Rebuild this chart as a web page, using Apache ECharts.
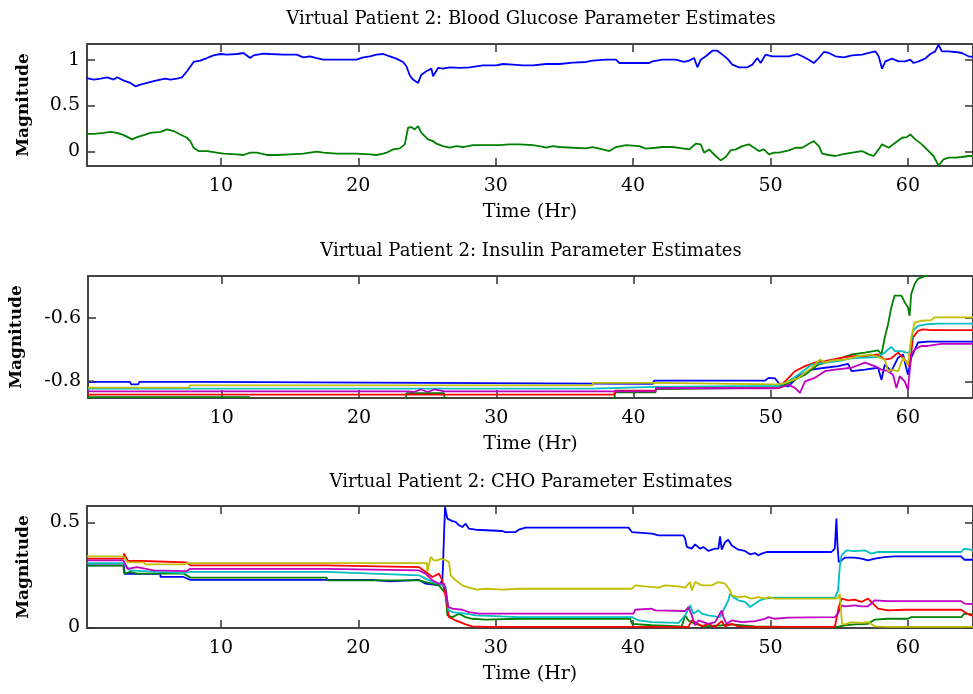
<!DOCTYPE html>
<html>
<head>
<meta charset="utf-8">
<title>Virtual Patient 2</title>
<style>html,body{margin:0;padding:0;background:#fff}</style>
</head>
<body>
<div id="container" style="width:973px;height:694px"></div>
<script src="https://cdn.jsdelivr.net/npm/echarts@6/dist/echarts.min.js"></script>
<script>
// ---- data: [time (hr), magnitude] ----
var bgBlue = [[0.21,0.80],[0.75,0.783],[1.23,0.794],[1.72,0.808],[2.2,0.783],[2.44,0.808],[2.93,0.772],[3.41,0.747],[3.77,0.71],[4.14,0.729],[4.62,0.747],[5.1,0.765],[5.59,0.783],[5.95,0.794],[6.32,0.783],[6.8,0.794],[7.16,0.808],[7.53,0.874],[8.01,0.975],[8.49,0.99],[8.98,1.018],[9.46,1.047],[9.95,1.062],[10.43,1.055],[11.16,1.062],[11.64,1.073],[12.13,1.018],[12.37,1.047],[13.09,1.066],[13.58,1.062],[14.55,1.055],[15.51,1.055],[16.0,1.026],[16.48,1.037],[16.97,1.018],[17.45,1.0],[18.9,1.0],[19.87,1.0],[20.36,1.026],[20.84,1.037],[21.32,1.055],[21.81,1.062],[22.29,1.037],[22.77,1.011],[23.26,0.975],[23.5,0.928],[23.74,0.83],[23.98,0.783],[24.35,0.747],[24.59,0.837],[24.95,0.874],[25.32,0.903],[25.44,0.819],[25.8,0.91],[26.16,0.903],[26.65,0.917],[27.37,0.91],[28.1,0.917],[29.07,0.939],[30.04,0.939],[30.52,0.953],[31.25,0.946],[31.97,0.939],[32.7,0.939],[33.67,0.953],[34.64,0.953],[35.6,0.968],[36.57,0.975],[37.06,0.99],[38.03,1.0],[38.75,1.0],[38.99,0.964],[39.96,0.964],[41.17,0.964],[41.41,0.982],[42.14,1.0],[43.11,1.0],[43.71,0.975],[44.08,0.99],[44.44,1.018],[44.68,0.917],[44.92,1.0],[45.29,1.037],[45.77,1.098],[46.13,1.098],[46.5,1.055],[46.86,1.011],[47.22,0.946],[47.71,0.917],[48.31,0.917],[48.68,0.946],[49.04,1.018],[49.28,0.964],[49.64,1.055],[50.13,1.037],[50.61,1.037],[51.34,1.037],[51.94,1.062],[52.31,1.037],[52.79,1.0],[53.15,0.964],[53.52,1.018],[53.88,1.084],[54.24,1.073],[54.73,1.037],[55.33,1.026],[55.94,1.047],[56.66,1.055],[57.15,1.073],[57.63,1.091],[57.87,1.037],[58.12,0.902],[58.36,0.982],[58.84,1.011],[59.33,0.982],[59.81,0.982],[60.17,1.0],[60.42,0.964],[60.78,0.982],[61.26,1.011],[61.63,1.062],[61.99,1.091],[62.23,1.165],[62.47,1.091],[62.96,1.091],[63.44,1.084],[63.93,1.073],[64.41,1.037],[64.8,1.03]];
var bgGreen = [[0.21,0.192],[0.75,0.192],[1.47,0.203],[1.96,0.214],[2.44,0.203],[2.93,0.178],[3.53,0.131],[3.9,0.156],[4.38,0.178],[4.86,0.203],[5.59,0.214],[6.07,0.24],[6.56,0.222],[7.04,0.185],[7.53,0.149],[7.77,0.113],[8.01,0.04],[8.37,0.004],[8.98,0.004],[9.7,-0.014],[10.19,-0.025],[11.16,-0.032],[11.64,-0.039],[12.13,-0.014],[12.61,-0.014],[13.34,-0.039],[14.06,-0.039],[15.03,-0.032],[16.0,-0.025],[16.97,-0.003],[17.45,-0.014],[18.42,-0.025],[19.87,-0.025],[20.84,-0.032],[21.32,-0.039],[21.81,-0.025],[22.05,-0.014],[22.53,0.022],[23.02,0.033],[23.38,0.077],[23.62,0.258],[23.86,0.265],[24.1,0.24],[24.35,0.276],[24.59,0.203],[24.83,0.167],[25.07,0.131],[25.44,0.113],[25.68,0.084],[26.16,0.058],[26.65,0.04],[27.13,0.058],[27.62,0.048],[28.34,0.069],[29.31,0.069],[30.28,0.069],[31.0,0.077],[31.73,0.077],[32.7,0.069],[33.18,0.058],[33.67,0.04],[34.15,0.058],[34.64,0.048],[35.6,0.04],[36.57,0.033],[37.06,0.048],[37.78,0.022],[38.27,0.004],[38.75,0.048],[39.48,0.069],[40.45,0.058],[40.93,0.03],[41.66,0.04],[42.14,0.048],[42.87,0.048],[43.59,0.033],[44.08,0.022],[44.56,0.084],[44.92,0.077],[45.17,-0.014],[45.53,0.022],[46.01,-0.05],[46.38,-0.097],[46.74,-0.061],[47.1,0.011],[47.47,0.022],[47.95,0.058],[48.43,0.077],[48.8,0.04],[49.16,0.004],[49.52,0.022],[49.89,-0.032],[50.25,-0.014],[50.61,-0.014],[51.34,0.011],[51.82,0.04],[52.31,0.04],[52.79,0.084],[53.15,0.113],[53.52,0.058],[53.76,-0.025],[54.24,-0.039],[54.73,-0.05],[55.21,-0.032],[55.94,-0.014],[56.66,0.004],[57.15,-0.032],[57.51,-0.05],[57.87,0.022],[58.12,0.077],[58.6,0.04],[59.09,0.095],[59.57,0.149],[59.93,0.156],[60.17,0.185],[60.54,0.131],[61.02,0.077],[61.51,0.004],[61.87,-0.05],[62.23,-0.155],[62.6,-0.086],[62.96,-0.068],[63.44,-0.068],[63.93,-0.061],[64.41,-0.05],[64.8,-0.05]];

var insBlue = [[0.25,-0.802],[3.3,-0.802],[3.4,-0.81],[3.9,-0.81],[4.0,-0.802],[8.5,-0.802],[8.6,-0.808],[41.4,-0.808],[41.5,-0.798],[49.59,-0.798],[49.84,-0.789],[50.32,-0.791],[50.68,-0.811],[51.29,-0.816],[52.01,-0.784],[52.98,-0.763],[53.95,-0.757],[54.92,-0.752],[55.64,-0.745],[55.89,-0.768],[56.86,-0.763],[57.82,-0.757],[58.07,-0.795],[58.31,-0.747],[58.79,-0.768],[59.28,-0.725],[59.64,-0.715],[60.0,-0.779],[60.24,-0.725],[60.73,-0.677],[61.45,-0.674],[64.8,-0.674]];
var insGreen = [[0.25,-0.85],[12,-0.85],[12.1,-0.87],[23.4,-0.87],[23.45,-0.838],[26.2,-0.838],[26.25,-0.87],[38.6,-0.87],[38.65,-0.835],[41.6,-0.835],[41.65,-0.825],[50.68,-0.82],[51.53,-0.8],[52.5,-0.779],[53.47,-0.747],[54.43,-0.736],[55.89,-0.715],[56.86,-0.709],[57.82,-0.702],[58.07,-0.715],[58.31,-0.661],[58.55,-0.619],[58.79,-0.565],[59.03,-0.528],[59.52,-0.528],[59.76,-0.549],[60.0,-0.565],[60.12,-0.592],[60.24,-0.523],[60.49,-0.491],[60.73,-0.475],[61.09,-0.469],[61.45,-0.462],[62.0,-0.44]];
var insRed = [[0.25,-0.842],[38.6,-0.842],[38.65,-0.83],[41.6,-0.83],[41.65,-0.82],[50.5,-0.82],[51.05,-0.8],[51.77,-0.768],[52.5,-0.752],[53.22,-0.741],[53.95,-0.736],[54.92,-0.727],[55.89,-0.72],[56.86,-0.72],[57.82,-0.715],[58.31,-0.731],[58.79,-0.727],[59.28,-0.709],[59.76,-0.731],[60.12,-0.752],[60.37,-0.661],[60.73,-0.64],[61.09,-0.635],[61.7,-0.638],[64.8,-0.638]];
var insCyan = [[0.25,-0.823],[37.0,-0.823],[37.05,-0.818],[41.6,-0.818],[41.65,-0.815],[50.56,-0.815],[51.29,-0.8],[52.01,-0.779],[52.98,-0.747],[53.95,-0.741],[54.92,-0.736],[55.89,-0.727],[56.86,-0.725],[57.82,-0.723],[58.31,-0.709],[58.55,-0.699],[58.79,-0.691],[59.03,-0.704],[59.52,-0.704],[59.88,-0.709],[60.12,-0.709],[60.37,-0.64],[60.73,-0.624],[61.45,-0.619],[62.18,-0.617],[64.8,-0.617]];
var insMagenta = [[0.25,-0.832],[23.5,-0.832],[23.6,-0.826],[24.0,-0.834],[24.5,-0.826],[25.0,-0.834],[25.5,-0.826],[26.2,-0.832],[41.6,-0.832],[41.65,-0.822],[50.56,-0.822],[51.29,-0.811],[51.77,-0.821],[52.13,-0.837],[52.5,-0.8],[53.22,-0.789],[53.95,-0.768],[54.68,-0.763],[55.89,-0.757],[56.86,-0.741],[57.58,-0.752],[58.07,-0.763],[58.55,-0.768],[58.91,-0.779],[59.16,-0.821],[59.4,-0.784],[59.76,-0.8],[60.0,-0.827],[60.24,-0.715],[60.49,-0.699],[60.97,-0.688],[61.45,-0.688],[62.42,-0.681],[64.8,-0.681]];
var insYellow = [[0.25,-0.82],[7.6,-0.82],[7.7,-0.813],[37.0,-0.813],[37.05,-0.805],[41.5,-0.805],[41.55,-0.81],[50.5,-0.81],[51.05,-0.805],[52.01,-0.789],[52.98,-0.757],[53.59,-0.731],[53.95,-0.741],[54.43,-0.734],[55.4,-0.731],[56.37,-0.72],[57.34,-0.715],[57.82,-0.723],[58.31,-0.731],[58.55,-0.768],[58.79,-0.763],[59.28,-0.768],[59.64,-0.725],[60.0,-0.747],[60.24,-0.661],[60.49,-0.613],[60.97,-0.608],[61.7,-0.606],[61.94,-0.597],[64.8,-0.597]];
var insBlack = [[0.25,-0.80],[0.7,-0.80]];

var choBlue = [[0.25,0.295],[2.93,0.295],[3.0,0.255],[5.59,0.255],[5.6,0.24],[7.28,0.24],[7.77,0.226],[21.0,0.226],[21.08,0.219],[22.29,0.219],[22.35,0.226],[24.42,0.226],[24.9,0.208],[25.87,0.2],[26.11,0.224],[26.16,0.287],[26.24,0.446],[26.31,0.573],[26.48,0.518],[26.84,0.506],[27.08,0.502],[27.33,0.486],[27.57,0.478],[27.81,0.494],[28.05,0.47],[28.54,0.465],[30.47,0.459],[30.71,0.454],[31.44,0.454],[31.68,0.465],[32.17,0.475],[39.67,0.475],[39.91,0.454],[41.37,0.446],[41.85,0.438],[43.66,0.438],[43.79,0.422],[43.91,0.383],[44.27,0.375],[44.51,0.395],[44.88,0.375],[45.12,0.383],[45.48,0.364],[45.97,0.375],[46.21,0.375],[46.33,0.433],[46.45,0.37],[46.69,0.406],[46.93,0.417],[47.18,0.39],[47.66,0.37],[48.14,0.364],[48.51,0.348],[48.87,0.354],[49.11,0.343],[49.36,0.351],[49.72,0.359],[54.44,0.359],[54.68,0.375],[54.8,0.518],[54.87,0.398],[54.97,0.311],[55.17,0.319],[55.41,0.332],[56.13,0.332],[56.62,0.327],[57.1,0.319],[57.59,0.327],[58.31,0.335],[59.04,0.338],[63.88,0.338],[64.12,0.322],[64.8,0.322]];
var choGreen = [[0.25,0.294],[2.9,0.294],[2.95,0.256],[3.4,0.264],[3.9,0.256],[7.3,0.256],[7.77,0.237],[17.69,0.237],[17.75,0.224],[24.42,0.224],[24.9,0.216],[25.87,0.2],[26.36,0.16],[26.48,0.057],[26.84,0.049],[27.33,0.065],[27.81,0.049],[28.3,0.041],[29.26,0.037],[31.68,0.041],[39.79,0.041],[39.91,0.017],[41.37,0.01],[43.54,0.005],[43.79,0.057],[44.03,0.033],[44.51,0.017],[45.24,0.005],[46.45,0.01],[47.18,0.014],[48.87,0.005],[51.29,0.002],[54.68,0.002],[55.04,0.005],[55.41,0.01],[56.13,0.014],[57.1,0.017],[57.59,0.037],[58.55,0.041],[60.0,0.041],[60.25,0.049],[63.88,0.049],[64.12,0.065],[64.8,0.062]];
var choRed = [[0.25,0.327],[2.9,0.327],[2.95,0.351],[3.2,0.319],[3.4,0.316],[4.3,0.316],[4.4,0.31],[7.5,0.31],[7.77,0.295],[17.69,0.295],[17.75,0.287],[24.42,0.287],[24.9,0.264],[25.39,0.24],[25.87,0.256],[26.11,0.224],[26.36,0.144],[26.6,0.049],[27.08,0.033],[27.81,0.014],[28.3,0.005],[29.26,0.002],[44.03,0.002],[44.27,0.033],[44.51,0.025],[45.0,0.005],[45.48,0.017],[45.97,0.002],[46.45,0.03],[46.69,0.005],[47.18,0.017],[47.66,0.005],[48.87,0.002],[54.68,0.002],[54.97,0.097],[55.17,0.137],[55.66,0.129],[56.13,0.132],[56.62,0.121],[57.1,0.137],[57.46,0.113],[57.83,0.089],[58.55,0.081],[59.77,0.084],[63.88,0.084],[64.12,0.073],[64.58,0.057],[64.8,0.057]];
var choCyan = [[0.25,0.306],[2.9,0.306],[3.4,0.271],[5.3,0.264],[7.3,0.259],[7.77,0.264],[17.69,0.264],[17.75,0.256],[24.42,0.248],[24.9,0.232],[25.39,0.216],[25.87,0.208],[26.36,0.192],[26.55,0.081],[26.84,0.073],[27.81,0.065],[28.54,0.057],[30.47,0.052],[31.68,0.049],[39.91,0.049],[40.4,0.033],[41.37,0.025],[43.3,0.021],[43.79,0.057],[44.15,0.105],[44.39,0.065],[44.75,0.081],[45.0,0.065],[45.48,0.057],[45.97,0.052],[46.33,0.049],[46.69,0.097],[46.93,0.129],[47.06,0.16],[47.3,0.144],[47.66,0.129],[48.14,0.121],[48.51,0.097],[48.87,0.113],[49.23,0.129],[49.6,0.137],[50.08,0.141],[54.68,0.141],[54.92,0.176],[55.04,0.287],[55.17,0.343],[55.53,0.367],[56.13,0.363],[56.86,0.367],[57.34,0.351],[57.83,0.359],[58.55,0.359],[63.88,0.359],[64.12,0.375],[64.8,0.367]];
var choMagenta = [[0.25,0.319],[2.9,0.319],[3.2,0.279],[3.9,0.287],[5.1,0.271],[7.5,0.268],[7.77,0.279],[17.69,0.279],[17.75,0.271],[24.42,0.271],[24.9,0.256],[25.39,0.224],[25.87,0.208],[26.24,0.208],[26.36,0.176],[26.55,0.097],[26.84,0.089],[27.57,0.084],[28.05,0.073],[28.78,0.065],[40.03,0.065],[40.15,0.084],[41.37,0.089],[41.61,0.081],[43.79,0.078],[44.03,0.097],[44.27,0.057],[44.51,0.01],[44.75,0.033],[45.48,0.017],[45.97,0.025],[46.45,0.081],[46.57,0.049],[46.81,0.017],[47.18,0.033],[47.91,0.025],[48.87,0.03],[49.6,0.041],[49.84,0.049],[50.32,0.041],[51.29,0.046],[54.68,0.049],[54.92,0.065],[55.17,0.105],[55.41,0.1],[56.13,0.105],[56.62,0.1],[57.1,0.1],[57.59,0.129],[58.55,0.125],[63.88,0.125],[64.12,0.113],[64.8,0.11]];
var choYellow = [[0.25,0.338],[2.9,0.338],[3.0,0.335],[3.2,0.31],[4.4,0.31],[4.5,0.3],[7.3,0.3],[7.5,0.306],[25.0,0.306],[25.03,0.264],[25.27,0.335],[25.51,0.319],[25.75,0.319],[25.99,0.327],[26.36,0.319],[26.6,0.311],[26.72,0.248],[27.08,0.224],[27.57,0.2],[28.05,0.189],[28.66,0.18],[29.26,0.184],[30.47,0.18],[31.68,0.184],[39.91,0.184],[40.15,0.2],[40.88,0.195],[41.85,0.189],[42.33,0.2],[43.3,0.195],[43.79,0.189],[44.15,0.216],[44.27,0.176],[44.51,0.216],[45.0,0.2],[45.72,0.2],[46.21,0.216],[46.69,0.208],[47.06,0.176],[47.18,0.152],[47.66,0.144],[48.14,0.148],[48.63,0.137],[49.11,0.144],[49.6,0.137],[49.84,0.144],[50.32,0.137],[54.68,0.137],[54.92,0.141],[55.04,0.16],[55.21,0.017],[55.41,0.014],[55.89,0.025],[56.62,0.021],[57.1,0.025],[57.59,0.005],[58.55,0.002],[64.8,0.002]];

// ---- ticks and texts ----
var xTicks = [10, 20, 30, 40, 50, 60];
var bgTicks = [0, 0.5, 1];
var insTicks = [-0.8, -0.6];
var choTicks = [0, 0.5];
var titles = [
  'Virtual Patient 2: Blood Glucose Parameter Estimates',
  'Virtual Patient 2: Insulin Parameter Estimates',
  'Virtual Patient 2: CHO Parameter Estimates'
];
var xName = 'Time (Hr)';
var yName = 'Magnitude';

var FONT = 'DejaVu Serif';
var FRAME = '#444';
var xRange = [0.25, 64.74];
var panels = [
  {top: 44, yMin: -0.159, yMax: 1.171, ticks: bgTicks, nameGap: 55, titleY: 19,
   lines: [[bgBlue, '#0000ff'], [bgGreen, '#008000']]},
  {top: 276, yMin: -0.853, yMax: -0.466, ticks: insTicks, nameGap: 63, titleY: 251,
   lines: [[insBlue, '#0000ff'], [insGreen, '#008000'], [insRed, '#ff0000'], [insCyan, '#00bfbf'],
           [insMagenta, '#bf00bf'], [insYellow, '#bfbf00'], [insBlack, '#404040']]},
  {top: 506, yMin: -0.003, yMax: 0.578, ticks: choTicks, nameGap: 55, titleY: 482,
   lines: [[choBlue, '#0000ff'], [choGreen, '#008000'], [choRed, '#ff0000'], [choCyan, '#00bfbf'],
           [choMagenta, '#bf00bf'], [choYellow, '#bfbf00']]}
];

var option = {
  animation: false,
  backgroundColor: '#fff',
  grid: [], xAxis: [], yAxis: [], series: [], graphic: []
};

panels.forEach(function (p, i) {
  option.grid.push({left: 87, top: p.top, width: 890, height: 122});
  var line = {show: true, onZero: false, lineStyle: {color: FRAME, width: 2}};
  var tick = {show: true, inside: true, length: 8, lineStyle: {color: '#333', width: 1.5}};
  // bottom + top x axes
  option.xAxis.push({
    type: 'value', gridIndex: i, min: xRange[0], max: xRange[1], position: 'bottom',
    axisLine: line, splitLine: {show: false},
    axisTick: Object.assign({customValues: xTicks}, tick),
    axisLabel: {customValues: xTicks, margin: 11, color: '#000', fontFamily: FONT, fontSize: 19},
    name: xName, nameLocation: 'middle', nameGap: 37,
    nameTextStyle: {color: '#000', fontFamily: FONT, fontSize: 19}
  });
  option.xAxis.push({
    type: 'value', gridIndex: i, min: xRange[0], max: xRange[1], position: 'top',
    axisLine: line, splitLine: {show: false},
    axisTick: Object.assign({customValues: xTicks}, tick),
    axisLabel: {show: false}
  });
  // left + right y axes
  option.yAxis.push({
    type: 'value', gridIndex: i, min: p.yMin, max: p.yMax, position: 'left',
    axisLine: line, splitLine: {show: false},
    axisTick: Object.assign({customValues: p.ticks}, tick),
    axisLabel: {customValues: p.ticks, margin: 7, color: '#000', fontFamily: FONT, fontSize: 19},
    name: yName, nameLocation: 'middle', nameGap: p.nameGap,
    nameTextStyle: {color: '#000', fontFamily: FONT, fontSize: 17, fontWeight: 'bold'}
  });
  option.yAxis.push({
    type: 'value', gridIndex: i, min: p.yMin, max: p.yMax, position: 'right',
    axisLine: line, splitLine: {show: false},
    axisTick: Object.assign({customValues: p.ticks}, tick),
    axisLabel: {show: false}
  });
  p.lines.forEach(function (l) {
    option.series.push({
      type: 'line', xAxisIndex: 2 * i, yAxisIndex: 2 * i, data: l[0],
      showSymbol: false, symbol: 'none', clip: true,
      lineStyle: {color: l[1], width: 1.8}
    });
  });
  option.graphic.push({
    type: 'text', x: 531, y: p.titleY,
    style: {text: titles[i], fill: '#000', fontFamily: FONT, fontSize: 18,
            align: 'center', verticalAlign: 'middle'}
  });
});

var chart = echarts.init(document.getElementById('container'));
chart.setOption(option);
</script>
</body>
</html>
